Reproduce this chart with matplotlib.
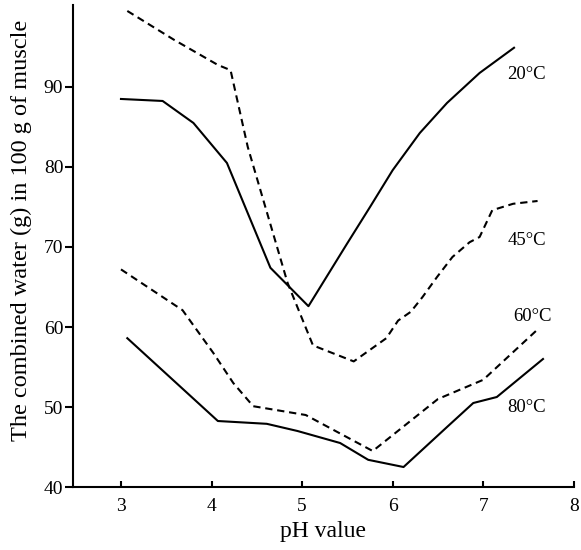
import matplotlib
matplotlib.use("Agg")
import matplotlib.pyplot as plt

plt.rcParams['font.family'] = ['Liberation Serif', 'DejaVu Serif']

# 20 °C (solid)
ph_20 = [3.0, 3.46, 3.8, 4.17, 4.65, 5.07, 5.49, 5.75, 6.0, 6.3, 6.6, 6.96, 7.34]
w_20 = [88.5, 88.25, 85.5, 80.5, 67.4, 62.6, 70.3, 75.0, 79.6, 84.25, 88.0, 91.75, 94.9]

# 45 °C (dashed)
ph_45 = [3.07, 3.585, 4.07, 4.21, 4.4, 4.84, 5.12, 5.57, 5.93, 6.06, 6.2, 6.33, 6.49,
         6.66, 6.85, 6.96, 7.1, 7.33, 7.6]
w_45 = [99.5, 95.9, 92.75, 92.1, 82.5, 65.5, 57.7, 55.7, 58.6, 60.8, 61.9, 63.75, 66.25,
        68.75, 70.6, 71.25, 74.6, 75.4, 75.75]

# 60 °C (dashed)
ph_60 = [3.0, 3.68, 4.02, 4.24, 4.46, 5.04, 5.78, 6.5, 7.0, 7.62]
w_60 = [67.2, 62.1, 56.75, 53.0, 50.1, 49.0, 44.5, 51.0, 53.4, 59.9]

# 80 °C (solid)
ph_80 = [3.07, 4.07, 4.61, 4.95, 5.42, 5.73, 6.12, 6.6, 6.89, 7.15, 7.66]
w_80 = [58.6, 48.25, 47.9, 47.0, 45.5, 43.4, 42.5, 47.5, 50.5, 51.25, 56.0]

labels = ['20°C', '45°C', '60°C', '80°C']
label_x = [7.48, 7.48, 7.54, 7.48]
label_y = [91.5, 70.75, 61.25, 50.0]

fig = plt.figure(figsize=(5.81, 5.5), dpi=100)
ax = fig.add_axes([0.1256, 0.1145, 0.862, 0.8765])

lw = 1.5
dash = (0, (3.5, 2.3))
ax.plot(ph_20, w_20, color='black', lw=lw)
ax.plot(ph_45, w_45, color='black', lw=lw, linestyle=dash)
ax.plot(ph_60, w_60, color='black', lw=lw, linestyle=dash)
ax.plot(ph_80, w_80, color='black', lw=lw)

for t, x, y in zip(labels, label_x, label_y):
    ax.text(x, y, t, fontsize=13.5, ha='center', va='center')

ax.set_xlim(2.47, 8.0)
ax.set_ylim(40, 100.25)
ax.set_xticks([3, 4, 5, 6, 7, 8])
ax.set_yticks([40, 50, 60, 70, 80, 90])

for s in ['top', 'right']:
    ax.spines[s].set_visible(False)
for s in ['left', 'bottom']:
    ax.spines[s].set_linewidth(1.5)

ax.tick_params(axis='y', direction='out', length=6, width=1.5, labelsize=14, pad=1)
ax.tick_params(axis='x', direction='in', length=4.5, width=1.5, labelsize=14, pad=8)

ax.set_xlabel('pH value', fontsize=17, labelpad=4)
ax.set_ylabel('The combined water (g) in 100 g of muscle', fontsize=17.5)
ax.yaxis.set_label_coords(-0.082, 0.533)

fig.savefig('out.png', dpi=100)
